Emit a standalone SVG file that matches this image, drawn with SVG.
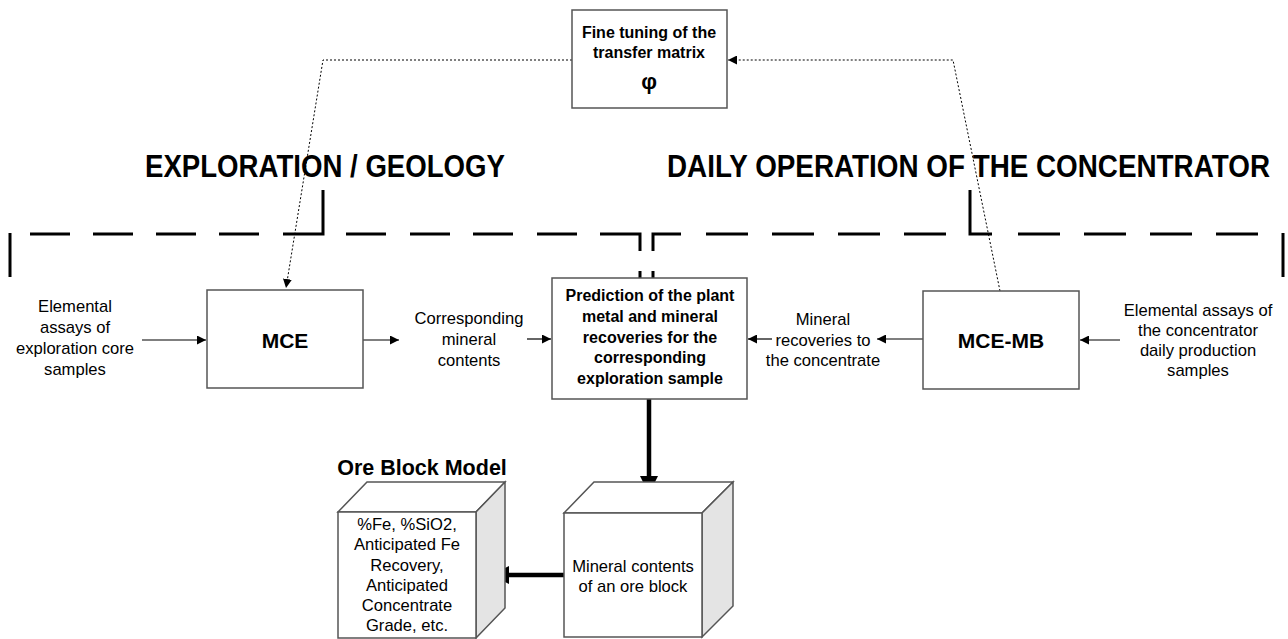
<svg xmlns="http://www.w3.org/2000/svg" width="1288" height="639" viewBox="0 0 1288 639">
<defs>
<style>
.box{fill:#fff;stroke:#555;stroke-width:1.5}
.side{fill:#e4e4e4;stroke:#555;stroke-width:1.5}
.t{font-family:"Liberation Sans",Arial,sans-serif;font-size:16.6px;fill:#000;text-anchor:middle}
.b{font-weight:bold;font-size:16px}
.h{font-family:"Liberation Sans",Arial,sans-serif;font-size:31px;font-weight:bold;fill:#000}
.sep{fill:none;stroke:#000;stroke-width:3}
.thin{fill:none;stroke:#000;stroke-width:1.2}
.dot{fill:none;stroke:#000;stroke-width:1;stroke-dasharray:2 2}
.thick{fill:none;stroke:#000;stroke-width:4.5}
</style>
<marker id="a" viewBox="0 0 10 10" refX="10" refY="5" markerWidth="9" markerHeight="9" markerUnits="userSpaceOnUse" orient="auto"><path d="M0,0 L10,5 L0,10 z" fill="#000"/></marker>
</defs>

<g id="separator">
<path class="sep" d="M10,233 V277 M30,234 H70 M93,234 H133 M156,234 H196 M219,234 H259 M283,234 H323 V190 M346,234 H386 M410,234 H450 M473,234 H513 M537,234 H577 M600,234 H640 V251 M640,271 V278 M653,271 V278 M653,251 V234 H681 M706,234 H748 M772,234 H814 M838,234 H880 M904,234 H946 M970,190 V234 H992 M1018,234 H1060 M1084,234 H1126 M1150,234 H1192 M1216,234 H1258 M1283,233 V277"/>
</g>

<g id="headings">
<text class="h" x="145" y="177" textLength="360" lengthAdjust="spacingAndGlyphs">EXPLORATION / GEOLOGY</text>
<text class="h" x="667" y="177" textLength="603" lengthAdjust="spacingAndGlyphs">DAILY OPERATION OF THE CONCENTRATOR</text>
</g>

<g id="connectors">
<path class="dot" d="M572,60 H323 L286,288" marker-end="url(#a)"/>
<path class="dot" d="M1000,291 L953,60 H728" marker-end="url(#a)"/>
<path class="thin" d="M142,340 H206" marker-end="url(#a)"/>
<path class="thin" d="M363,340 H399" marker-end="url(#a)"/>
<path class="thin" d="M527,339 H551" marker-end="url(#a)"/>
<path class="thin" d="M772,339 H748" marker-end="url(#a)"/>
<path class="thin" d="M923,339 H877" marker-end="url(#a)"/>
<path class="thin" d="M1120,340 H1080" marker-end="url(#a)"/>
<path class="thick" d="M649,399 V478"/>
<polygon points="640,476 658,476 649,494" fill="#000"/>
<path class="thick" d="M564,575 H508"/>
<polygon points="509,566 509,584 491,575" fill="#000"/>
</g>

<g id="fine-tuning">
<rect class="box" x="572" y="10" width="155" height="98"/>
<text class="t b" x="649" y="38">Fine tuning of the</text>
<text class="t b" x="649" y="58">transfer matrix</text>
<text class="t b" x="649" y="89" style="font-size:22px">φ</text>
</g>

<g id="input-left">
<text class="t" x="75" y="312">Elemental</text>
<text class="t" x="75" y="333">assays of</text>
<text class="t" x="75" y="354">exploration core</text>
<text class="t" x="75" y="375">samples</text>
</g>

<g id="mce">
<rect class="box" x="207" y="290" width="156" height="98"/>
<text class="t b" x="285" y="348" style="font-size:21px">MCE</text>
</g>

<g id="mineral-contents">
<text class="t" x="469" y="324">Corresponding</text>
<text class="t" x="469" y="345">mineral</text>
<text class="t" x="469" y="366">contents</text>
</g>

<g id="prediction">
<rect class="box" x="552" y="278" width="195" height="121"/>
<text class="t b" x="650" y="301">Prediction of the plant</text>
<text class="t b" x="650" y="322">metal and mineral</text>
<text class="t b" x="650" y="343">recoveries for the</text>
<text class="t b" x="650" y="363">corresponding</text>
<text class="t b" x="650" y="384">exploration sample</text>
</g>

<g id="mineral-recoveries">
<text class="t" x="823" y="325">Mineral</text>
<text class="t" x="823" y="346">recoveries to</text>
<text class="t" x="823" y="366">the concentrate</text>
</g>

<g id="mce-mb">
<rect class="box" x="923" y="291" width="156" height="98"/>
<text class="t b" x="1001" y="348" style="font-size:21px">MCE-MB</text>
</g>

<g id="input-right">
<text class="t" x="1198" y="316">Elemental assays of</text>
<text class="t" x="1198" y="336">the concentrator</text>
<text class="t" x="1198" y="356">daily production</text>
<text class="t" x="1198" y="376">samples</text>
</g>

<g id="ore-block">
<path class="box" d="M564,513 L594,482 H733 L702,513 Z"/>
<path class="side" d="M702,513 L733,482 V606 L702,637 Z"/>
<rect class="box" x="564" y="513" width="138" height="124"/>
<text class="t" x="633" y="572">Mineral contents</text>
<text class="t" x="633" y="592">of an ore block</text>
</g>

<g id="ore-block-model">
<text class="t b" x="422" y="475" style="font-size:21.5px">Ore Block Model</text>
<path class="box" d="M338,512 L367,482 H505 L476,512 Z"/>
<path class="side" d="M476,512 L505,482 V608 L476,638 Z"/>
<rect class="box" x="338" y="512" width="138" height="126"/>
<text class="t" x="407" y="530">%Fe, %SiO2,</text>
<text class="t" x="407" y="550">Anticipated Fe</text>
<text class="t" x="407" y="571">Recovery,</text>
<text class="t" x="407" y="591">Anticipated</text>
<text class="t" x="407" y="611">Concentrate</text>
<text class="t" x="407" y="631">Grade, etc.</text>
</g>
</svg>
